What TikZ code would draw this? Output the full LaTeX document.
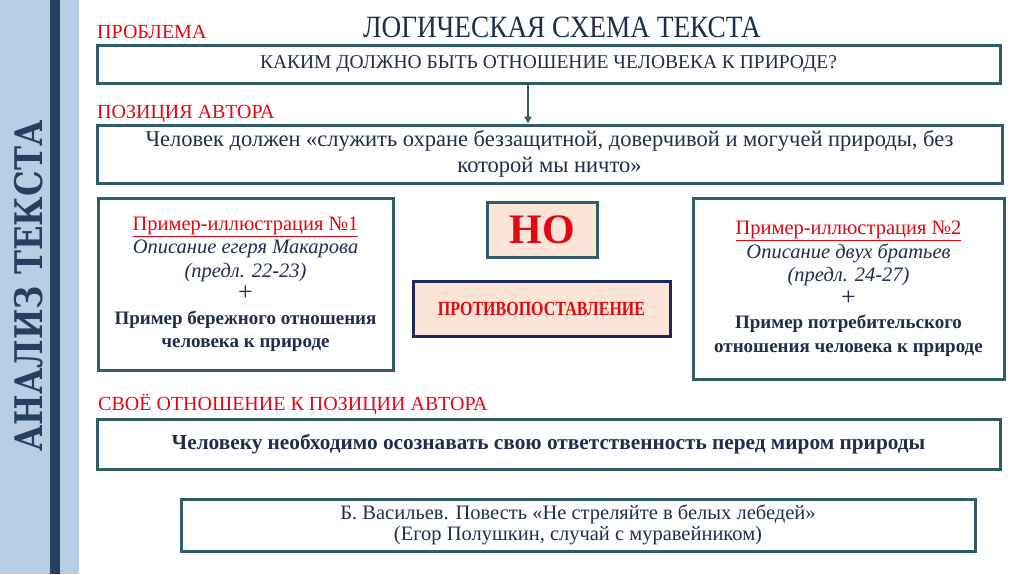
\documentclass[tikz,border=0pt]{standalone}
\usepackage{fontspec}
\setmainfont{Liberation Serif}
\newfontfamily\condfont[FakeStretch=0.8]{Liberation Serif}
\newfontfamily\narrowfont[FakeStretch=0.88]{Liberation Serif}
\newfontfamily\slabfont[FakeStretch=0.85]{DejaVu Serif}
\usetikzlibrary{arrows.meta}
\definecolor{boxline}{HTML}{2F5D6B}
\definecolor{darktext}{HTML}{1F2E4D}
\definecolor{redtext}{HTML}{E30613}
\definecolor{sidebar}{HTML}{B9CDE5}
\definecolor{stripe}{HTML}{243F60}
\definecolor{peach}{HTML}{FCE4D6}
\definecolor{navyline}{HTML}{1F2A5C}
\newcommand{\fsz}[2]{\fontsize{#1}{#2}\selectfont}

\begin{document}
\begin{tikzpicture}[x=1pt,y=-1pt]
\tikzstyle{every node}=[text=darktext,inner sep=0pt]
\tikzstyle{frame}=[draw=boxline,line width=3pt,fill=white,align=center]
\tikzstyle{head}=[text=redtext,anchor=base west,font=\fsz{20}{24}]
\tikzstyle{redbox}=[frame,fill=peach,text=redtext]

\useasboundingbox[fill=white] (0,0) rectangle (1024,574);
% side bar
\fill[sidebar] (0,0) rectangle (79,574);
\fill[stripe] (50,0) rectangle (60,574);
\node[rotate=90,font=\slabfont\bfseries\fsz{38}{44},text=stripe] (side) at (29,286) {АНАЛИЗ ТЕКСТА};

% title and headings
\node[font=\narrowfont\fsz{31}{36}] (title) at (562,27) {ЛОГИЧЕСКАЯ СХЕМА ТЕКСТА};
\node[head] (h1) at (97,38) {ПРОБЛЕМА};
\node[head] (h2) at (97,118) {ПОЗИЦИЯ АВТОРА};
\node[head] (h3) at (98,410) {СВОЁ ОТНОШЕНИЕ К ПОЗИЦИИ АВТОРА};

% boxes
\node[frame,minimum width=903,minimum height=38,font=\fsz{19.5}{24}] (prob) at (548.5,64)
  {КАКИМ ДОЛЖНО БЫТЬ ОТНОШЕНИЕ ЧЕЛОВЕКА К ПРИРОДЕ?};
\node[frame,minimum width=905,minimum height=58,font=\fsz{22.5}{26}] (pos) at (549.5,154)
  {Человек должен «служить охране беззащитной, доверчивой и могучей природы, без\\
   которой мы ничто»};
\node[frame,minimum width=295,minimum height=172,font=\fsz{20.5}{23.5}] (ex1) at (245.5,284)
  {\textcolor{redtext}{\underline{Пример-иллюстрация №1}}\\
   \textit{Описание егеря Макарова}\\
   \textit{(предл. 22-23)}\\
   {\fsz{26}{24}+}\\
   {\fsz{19}{23.5}\bfseries Пример бережного отношения}\\
   {\fsz{19}{23.5}\bfseries человека к природе}};
\node[frame,minimum width=311,minimum height=181,font=\fsz{20.5}{23.5}] (ex2) at (848.5,288.5)
  {\textcolor{redtext}{\underline{Пример-иллюстрация №2}}\\
   \textit{Описание двух братьев}\\
   \textit{(предл. 24-27)}\\
   {\fsz{26}{24}+}\\
   {\fsz{19}{23.5}\bfseries Пример потребительского}\\
   {\fsz{19}{23.5}\bfseries отношения человека к природе}};
\node[redbox,minimum width=110,minimum height=55,font=\bfseries\fsz{42}{46}] (but) at (542,229.5) {НО};
\node[redbox,draw=navyline,minimum width=257,minimum height=55,font=\condfont\bfseries\fsz{20}{24}] (contr) at (541.5,308.5)
  {ПРОТИВОПОСТАВЛЕНИЕ};
\node[frame,minimum width=903,minimum height=50,font=\bfseries\fsz{21.3}{24}] (own) at (548.5,444)
  {Человеку необходимо осознавать свою ответственность перед миром природы};
\node[frame,minimum width=794,minimum height=52,font=\fsz{20.5}{21}] (src) at (578,525)
  {Б. Васильев. Повесть «Не стреляйте в белых лебедей»\\
   (Егор Полушкин, случай с муравейником)};

% arrow
\coordinate (ar) at (528,0);
\draw[boxline,line width=2pt,-{Triangle[length=7pt,width=7pt]}] (prob.south -| ar) -- (pos.north -| ar);
\end{tikzpicture}
\end{document}
